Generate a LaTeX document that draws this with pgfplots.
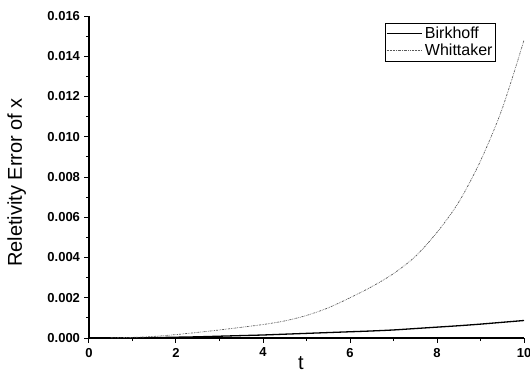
\documentclass[border=0pt]{standalone}
\usepackage{fontspec}
\setmainfont{Liberation Sans}
\usepackage{pgfplots}
\pgfplotsset{compat=1.18}
\begin{document}
\begin{tikzpicture}
\begin{axis}[
  scale only axis,
  width=435pt, height=322pt,
  at={(0,0)}, anchor=south west,
  xmin=0, xmax=10, ymin=0, ymax=0.016,
  axis lines=left,
  axis line style={-, line width=1.3pt},
  every tick/.style={black, line width=1pt},
  tick align=outside,
  major tick length=4.5pt, minor tick length=3pt,
  xtick={0,2,4,6,8,10},
  ytick={0,0.002,0.004,0.006,0.008,0.010,0.012,0.014,0.016},
  minor x tick num=1, minor y tick num=1,
  scaled y ticks=false,
  /pgf/number format/assume math mode=true,
  yticklabel style={/pgf/number format/fixed, /pgf/number format/fixed zerofill, /pgf/number format/precision=3, xshift=-1pt},
  xticklabel style={yshift=-2pt},
  tick label style={font=\bfseries\fontsize{13}{13}\selectfont},
  xlabel={t}, ylabel={Reletivity Error of x},
  label style={font=\fontsize{20}{20}\selectfont},
  xlabel style={at={(axis description cs:0.487,-0.078)}, anchor=center, inner sep=0pt},
  ylabel style={at={(axis description cs:-0.166,0.483)}, anchor=center, inner sep=0pt},
  legend style={at={(axis description cs:0.68,0.977)}, anchor=north west,
    draw=black, line width=0.6pt, font=\fontsize{16}{19}\selectfont,
    inner xsep=1pt, inner ysep=1.5pt, row sep=0pt},
  legend cell align=left,
  legend image code/.code={\draw[#1] (0cm,0cm) -- (1.25cm,0cm);},
]
\addplot[black, line width=1.3pt, smooth] coordinates {
(0.5,0.000005) (1,0.00001) (1.5,0.00002) (2,0.00004) (2.5,0.00006) (3,0.00009)
(3.5,0.00012) (4,0.00015) (4.5,0.00019) (5,0.00023) (5.5,0.00027) (6,0.00031)
(6.5,0.00035) (7,0.00040) (7.5,0.00047) (8,0.00054) (8.5,0.00061) (9,0.00069)
(9.5,0.00078) (10,0.00087)};
\addlegendentry{Birkhoff}
\addplot[black!65, line width=0.7pt, smooth, dash pattern=on 2pt off 1pt on 0.6pt off 1pt on 0.6pt off 1pt] coordinates {
(0.5,0.00001) (1,0.00003) (1.5,0.00008) (2,0.00017) (2.5,0.00028) (3,0.00040)
(3.5,0.00053) (4,0.00067) (4.5,0.00085) (5,0.00112) (5.5,0.00150) (6,0.00200)
(6.5,0.00255) (7,0.00320) (7.5,0.00405) (8,0.00525) (8.5,0.00675) (9,0.00880)
(9.5,0.01140) (10,0.01480)};
\addlegendentry{Whittaker}
\end{axis}
\pgfresetboundingbox
\path (-89pt,-35pt) rectangle (441pt,338pt);
\end{tikzpicture}
\end{document}
